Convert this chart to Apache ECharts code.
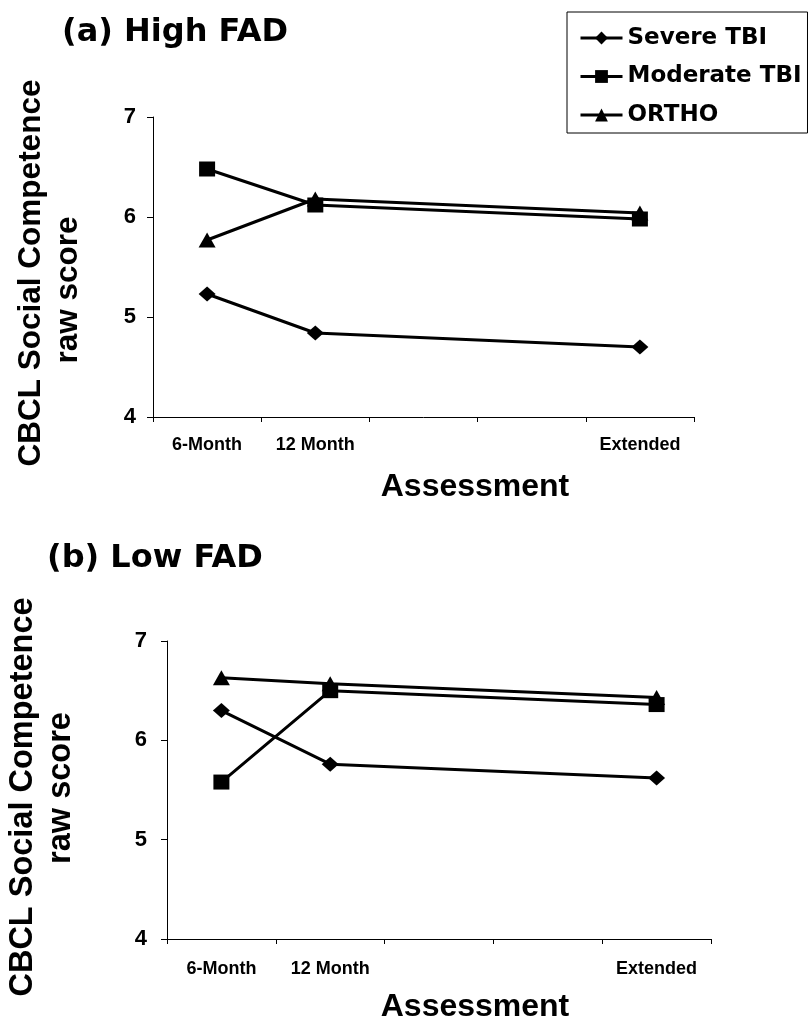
<!DOCTYPE html>
<html>
<head>
<meta charset="UTF-8">
<title>CBCL Social Competence by FAD</title>
<script src="https://cdn.jsdelivr.net/npm/echarts@6/dist/echarts.min.js"></script>
<style>
    html, body { margin: 0; padding: 0; background: #ffffff; }
    #chart1 { width: 810px; height: 1025px; }
</style>
</head>
<body>
<div id="chart1"></div>
<script type="text/javascript">
// 数据
var categories = ['6-Month', '12 Month', '', '', 'Extended'];
var seriesNames = ['Severe TBI', 'Moderate TBI', 'ORTHO'];
var symbols = ['diamond', 'rect', 'triangle'];
// (a) High FAD
var highSevere = [5.23, 4.84, null, null, 4.70];
var highModerate = [6.48, 6.12, null, null, 5.98];
var highOrtho = [5.77, 6.18, null, null, 6.04];
// (b) Low FAD
var lowSevere = [6.30, 5.76, null, null, 5.62];
var lowModerate = [5.58, 6.50, null, null, 6.36];
var lowOrtho = [6.63, 6.57, null, null, 6.43];
var yTicks = [4, 5, 6, 7];

var chart1 = echarts.init(document.getElementById('chart1'));
var font = '"Liberation Sans", Arial, sans-serif';
var wideFont = '"DejaVu Sans", Verdana, sans-serif';

var makeSeries = function (data, index, axisIndex) {
    return {
        name: seriesNames[index],
        type: 'line',
        xAxisIndex: axisIndex,
        yAxisIndex: axisIndex,
        data: data,
        connectNulls: true,
        symbol: symbols[index],
        symbolSize: index === 1 ? [16, 15] : [17, 15],
        showAllSymbol: true,
        lineStyle: { color: '#000', width: 3 },
        itemStyle: { color: '#000' },
        z: 3 - index,
    };
};

var makeXAxis = function (gridIndex, margin) {
    return {
        type: 'category',
        gridIndex: gridIndex,
        data: categories,
        boundaryGap: true,
        axisLine: { lineStyle: { color: '#000', width: 1 } },
        axisTick: { show: true, length: 5, lineStyle: { color: '#000' } },
        axisLabel: {
            color: '#000', fontSize: 18, fontWeight: 'bold', fontFamily: font,
            margin: margin, interval: 0,
        },
        splitLine: { show: false },
    };
};

var makeYAxis = function (gridIndex, margin) {
    return {
        type: 'value',
        gridIndex: gridIndex,
        min: yTicks[0],
        max: yTicks[yTicks.length - 1],
        interval: 1,
        axisLine: { show: true, lineStyle: { color: '#000', width: 1 } },
        axisTick: { show: true, length: 6, lineStyle: { color: '#000' } },
        axisLabel: {
            color: '#000', fontSize: 22, fontWeight: 'bold', fontFamily: font, margin: margin,
        },
        splitLine: { show: false },
    };
};

var textStyle = function (size, family) {
    return { fill: '#000', font: 'bold ' + size + 'px ' + family, textAlign: 'center', textVerticalAlign: 'middle' };
};

option = {
    backgroundColor: '#ffffff',
    animation: false,
    legend: {
        show: true,
        orient: 'vertical',
        left: 567,
        top: 12,
        padding: [14, 6, 6, 12],
        itemGap: 14.5,
        itemWidth: 42,
        itemHeight: 16,
        borderColor: '#000',
        borderWidth: 1,
        borderRadius: 0,
        data: seriesNames,
        textStyle: { color: '#000', fontSize: 23, lineHeight: 24, fontWeight: 'bold', fontFamily: wideFont },
        itemStyle: { color: '#000' },
        lineStyle: { color: '#000', width: 3 },
    },
    grid: [
        { left: 153, top: 117, width: 541, height: 300 },
        { left: 167, top: 641, width: 544, height: 298 },
    ],
    xAxis: [makeXAxis(0, 19), makeXAxis(1, 21)],
    yAxis: [makeYAxis(0, 17), makeYAxis(1, 20)],
    series: [
        makeSeries(highSevere, 0, 0),
        makeSeries(highModerate, 1, 0),
        makeSeries(highOrtho, 2, 0),
        makeSeries(lowSevere, 0, 1),
        makeSeries(lowModerate, 1, 1),
        makeSeries(lowOrtho, 2, 1),
    ],
    graphic: [
        { type: 'text', x: 62, y: 33, style: { text: '(a) High FAD', fill: '#000', font: 'bold 32px ' + wideFont, textVerticalAlign: 'middle' } },
        { type: 'text', x: 47, y: 559, style: { text: '(b) Low FAD', fill: '#000', font: 'bold 32px ' + wideFont, textVerticalAlign: 'middle' } },
        { type: 'text', x: 475, y: 487, style: Object.assign({ text: 'Assessment' }, textStyle(32, font)) },
        { type: 'text', x: 475, y: 1007, style: Object.assign({ text: 'Assessment' }, textStyle(32, font)) },
        { type: 'text', x: 31, y: 273, rotation: Math.PI / 2, style: Object.assign({ text: 'CBCL Social Competence' }, textStyle(31.5, font)) },
        { type: 'text', x: 68, y: 290, rotation: Math.PI / 2, style: Object.assign({ text: 'raw score' }, textStyle(31.5, font)) },
        { type: 'text', x: 23, y: 797, rotation: Math.PI / 2, style: Object.assign({ text: 'CBCL Social Competence' }, textStyle(32.5, font)) },
        { type: 'text', x: 61, y: 788, rotation: Math.PI / 2, style: Object.assign({ text: 'raw score' }, textStyle(32.5, font)) },
    ],
};

chart1.setOption(option);
</script>
</body>
</html>
